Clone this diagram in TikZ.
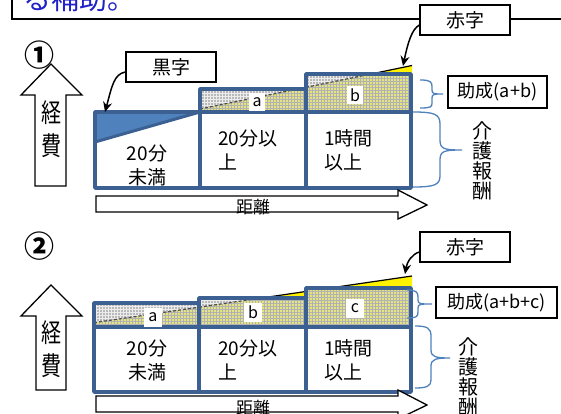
\documentclass[tikz,border=0pt]{standalone}
\usepackage{fontspec}
\setmainfont{Noto Sans CJK JP}
\usetikzlibrary{arrows.meta,patterns}
\definecolor{bord}{RGB}{59,96,145}
\definecolor{wedgecol}{RGB}{79,129,189}
\definecolor{brc}{RGB}{79,129,189}
\definecolor{ttl}{RGB}{32,32,200}
\definecolor{hgrey}{RGB}{185,185,185}
\definecolor{hyel}{RGB}{228,228,130}
\begin{document}
\begin{tikzpicture}[x=1pt,y=-1pt,
 boxline/.style={draw=bord,line width=3.5pt,line join=round},
 greyfill/.style={fill=hgrey,postaction={pattern=grid,pattern color=white!85!gray}},
 yelfill/.style={fill=hyel,postaction={pattern=grid,pattern color=gray!60}},
 cost/.style={draw=gray!60!black,densely dashed,line width=1.2pt},
 tag/.style={draw=black,line width=1.2pt,fill=white,minimum width=90pt,minimum height=30pt,font=\fontsize{19}{20}\selectfont,inner sep=0pt},
 lbl/.style={fill=white,inner sep=0pt,minimum width=16pt,minimum height=18pt,font=\fontsize{16}{16}\selectfont},
 callout/.style={line width=1.5pt,-{Stealth[length=10pt,width=9pt]}},
 bigarrow/.style={draw=black,line width=1.3pt,fill=white,line join=miter},
 brace/.style={draw=brc,line width=1.3pt},
 celltxt/.style={font=\fontsize{19}{24}\selectfont,inner sep=0pt},
 vtxt/.style={font=\fontsize{20}{20}\selectfont,align=center,inner sep=0pt},
 numtxt/.style={font=\fontsize{30}{30}\selectfont\bfseries,inner sep=0pt}]
\useasboundingbox (0,0) rectangle (561,414);
\clip (0,0) rectangle (561,414);

% title frame
\draw[line width=1.3pt] (12,-5) -- (12,19) -- (570,19);
\node[anchor=base west,text=ttl,font=\fontsize{28}{30}\selectfont,inner sep=0pt] (title) at (23,10) {る補助。};

% ================= panel 1 =================
\node[numtxt] (n1) at (39,55) {①};
\draw[bigarrow] (35,186) -- (35,95) -- (21,95) -- (51,64) -- (82,95) -- (66,95) -- (66,186) -- cycle;
\node[vtxt] (k1) at (51,129) {\scalebox{1}[1.3]{経}\\[8pt]\scalebox{1}[1.3]{費}};

\fill[yellow] (370.9,74) -- (412,65.5) -- (412,74) -- cycle;
\draw[line width=1.2pt] (370.9,74) -- (412,65.5);
\path[yelfill] (200,89) rectangle (306,112);
\path[greyfill] (200,89) -- (200,109) -- (297.7,89) -- cycle;
\draw[cost] (200,109) -- (297.7,89);
\path[yelfill] (306,74) rectangle (411,112);
\path[greyfill] (306,74) -- (306,87.3) -- (370.9,74) -- cycle;
\draw[cost] (306,87.3) -- (370.9,74);
\fill[wedgecol] (95,112) -- (200,112) -- (95,142) -- cycle;
\draw[bord,line width=3pt] (95,142) -- (200,112);
\draw[boxline] (200,89) rectangle (306,112);
\draw[boxline] (306,74) rectangle (411,112);
\draw[boxline] (95,112) rectangle (200,188);
\draw[boxline] (200,112) rectangle (306,188);
\draw[boxline] (306,112) rectangle (411,188);
\node[lbl] (la1) at (257,102) {a};
\node[lbl] (lb1) at (355,95) {b};
\node[celltxt,align=center] (c11) at (147,165) {20分\\未満};
\node[celltxt,align=left,anchor=west] (c12) at (218,150) {20分以\\上};
\node[celltxt,align=left,anchor=west] (c13) at (324,150) {1時間\\以上};

\draw[bigarrow] (96,196) -- (398,196) -- (398,190) -- (427,205) -- (398,219) -- (398,212) -- (96,212) -- cycle;
\node[font=\fontsize{17}{17}\selectfont,inner sep=0pt] (d1) at (253,207) {距離};

\node[tag] (kuro) at (171,67) {黒字};
\coordinate (kurotip) at (105,112);
\draw[callout] ([yshift=-5pt]kuro.west) .. controls (114,74) and (112,86) .. (kurotip);

\node[tag] (aka1) at (465,20) {赤字};
\coordinate (akatip1) at (403,66);
\draw[callout] ([yshift=-5pt]aka1.west) .. controls (412,29) and (408,42) .. (akatip1);

\draw[brace] (420,80) .. controls (431,80) and (432,82) .. (432,87) -- (432,90) .. controls (432,94) and (434,94) .. (443,94) .. controls (434,94) and (432,94) .. (432,98) -- (432,103) .. controls (432,107) and (431,108) .. (420,108);
\node[draw=black,line width=1.2pt,minimum width=99pt,minimum height=32pt,inner sep=0pt,font=\fontsize{18}{18}\selectfont] (jo1) at (497.5,92) {助成(a+b)};
\draw[brace] (413,112) .. controls (434,112) and (440,114) .. (440,124) -- (440,140) .. controls (440,149) and (444,150) .. (462,150) .. controls (444,150) and (440,151) .. (440,160) -- (440,176) .. controls (440,185) and (434,187) .. (413,187);
\node[vtxt] (kai1) at (482,161) {介\\護\\報\\酬};

% ================= panel 2 =================
\node[numtxt] (n2) at (39,246) {②};
\draw[bigarrow] (36,390) -- (36,316) -- (21,316) -- (51,285) -- (82,316) -- (66,316) -- (66,390) -- cycle;
\node[vtxt] (k2) at (51,349) {\scalebox{1}[1.3]{経}\\[8pt]\scalebox{1}[1.3]{費}};

\fill[yellow] (261.3,298) -- (412,276) -- (412,298) -- cycle;
\draw[line width=1.2pt] (261.3,298) -- (412,276);
\path[yelfill] (94,303) rectangle (199,327);
\path[greyfill] (94,303) -- (94,322.6) -- (199,307.2) -- (199,303) -- cycle;
\draw[cost] (94,322.6) -- (199,307.2);
\path[yelfill] (199,298) rectangle (306,327);
\path[greyfill] (199,298) -- (199,307.2) -- (261.3,298) -- cycle;
\draw[cost] (199,307.2) -- (261.3,298);
\path[yelfill] (306,288) rectangle (411,327);
\draw[boxline] (94,303) rectangle (199,327);
\draw[boxline] (199,298) rectangle (306,327);
\draw[boxline] (306,288) rectangle (411,327);
\draw[boxline] (94,327) rectangle (199,392);
\draw[boxline] (199,327) rectangle (306,392);
\draw[boxline] (306,327) rectangle (411,392);
\node[lbl,minimum width=18pt,minimum height=19pt] (la2) at (153,317) {a};
\node[lbl,minimum width=18pt,minimum height=19pt] (lb2) at (253,312) {b};
\node[lbl,minimum width=18pt,minimum height=19pt] (lc2) at (355,308) {c};
\node[celltxt,align=center] (c21) at (147,360) {20分\\未満};
\node[celltxt,align=left,anchor=west] (c22) at (218,360) {20分以\\上};
\node[celltxt,align=left,anchor=west] (c23) at (324,360) {1時間\\以上};

\draw[bigarrow] (96,396) -- (398,396) -- (398,390) -- (427,405) -- (398,419) -- (398,412) -- (96,412) -- cycle;
\node[font=\fontsize{17}{17}\selectfont,inner sep=0pt] (d2) at (253,408) {距離};

\node[tag] (aka2) at (465,247) {赤字};
\coordinate (akatip2) at (405,274);
\draw[callout] ([yshift=-5pt]aka2.west) .. controls (412,254) and (407,262) .. (akatip2);

\draw[brace] (407,290) .. controls (416,290) and (418,292) .. (418,297) -- (418,300) .. controls (418,304) and (420,304) .. (432,304) .. controls (420,304) and (418,304) .. (418,308) -- (418,312) .. controls (418,317) and (416,318) .. (407,318);
\node[draw=black,line width=1.2pt,minimum width=121pt,minimum height=31pt,inner sep=0pt,font=\fontsize{18}{18}\selectfont] (jo2) at (496.5,302.5) {助成(a+b+c)};
\draw[brace] (415,326) .. controls (427,326) and (431,328) .. (431,336) -- (431,350) .. controls (431,357) and (436,358) .. (450,358) .. controls (436,358) and (431,359) .. (431,366) -- (431,380) .. controls (431,386) and (427,388) .. (415,388);
\node[vtxt] (kai2) at (468,377) {介\\護\\報\\酬};
\end{tikzpicture}
\end{document}
